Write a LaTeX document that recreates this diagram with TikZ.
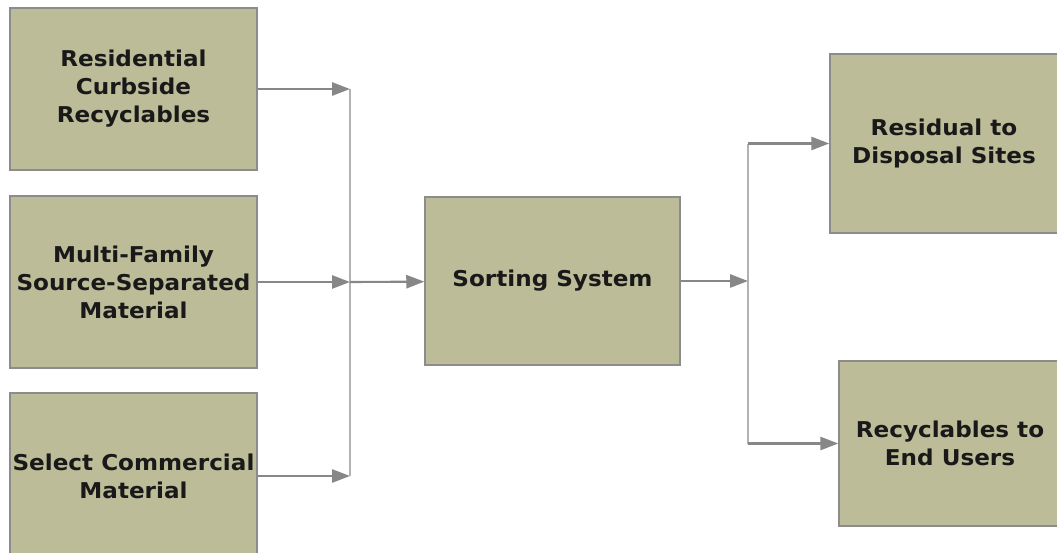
\documentclass[tikz,border=0pt]{standalone}
\usepackage{fontspec}
\setmainfont{DejaVu Sans}[FakeStretch=1.06]
\usepackage{tikz}
\usetikzlibrary{positioning,arrows.meta,calc}
\definecolor{boxkhaki}{RGB}{188,188,153}
\definecolor{boxline}{RGB}{140,140,140}
\definecolor{flowgray}{RGB}{135,135,135}
\definecolor{busgray}{RGB}{178,178,178}
\tikzset{
  stage/.style={rectangle, draw=boxline, line width=1pt, fill=boxkhaki,
                inner sep=0pt, align=center, text=black!90,
                font=\fontsize{15.5}{19.9}\selectfont\bfseries},
  flow/.style={-{Triangle[length=4.5mm,width=3.3mm]}, line width=1.5pt, flowgray},
  bus/.style={line width=1.6pt, busgray}
}

\begin{document}
\begin{tikzpicture}[x=0.025cm, y=-0.025cm]
        \useasboundingbox (0,0) rectangle (1057,552);
        % sources
        \node[stage, minimum width=6.175cm, minimum height=4.05cm] (res) at (133.5,89)
             {Residential\\Curbside\\Recyclables};
        \node[stage, minimum width=6.175cm, minimum height=4.3cm] (multi) at (133.5,282)
             {Multi-Family\\Source-Separated\\Material};
        \node[stage, minimum width=6.175cm, minimum height=4.15cm] (sel) at (133.5,476)
             {Select Commercial\\Material};
        % sorting and outputs
        \node[stage, minimum width=6.375cm, minimum height=4.2cm] (sort) at (552.5,281)
             {Sorting System};
        \node[stage, minimum width=5.7cm, minimum height=4.475cm] (resid) at (944,143.5)
             {Residual to\\Disposal Sites};
        \node[stage, minimum width=5.55cm, minimum height=4.125cm] (recyc) at (950,443.5)
             {Recyclables to\\End Users};
        % junctions
        \coordinate (busin) at (350,282);
        \coordinate (busout) at (748,281);
        \draw[bus] (res -| busin) -- (sel -| busin);
        \draw[flow] (res) -- (res -| busin);
        \draw[flow] (multi) -- (busin);
        \draw[flow] (sel) -- (sel -| busin);
        \draw[flow] (busin) -- (sort);
        \draw[bus] (busout |- resid) -- (busout |- recyc);
        \draw[flow] (sort) -- (busout);
        \draw[flow] (busout |- resid) -- (resid);
        \draw[flow] (busout |- recyc) -- (recyc);
      \end{tikzpicture}
\end{document}
